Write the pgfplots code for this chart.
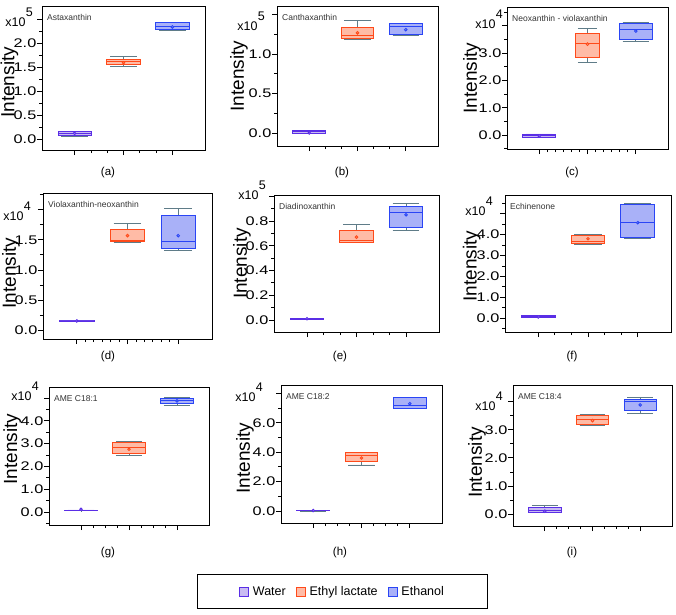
\documentclass[border=0pt]{standalone}
\usepackage{pgfplots}
\pgfplotsset{compat=1.18}
\usepgfplotslibrary{statistics}
\usepackage{graphicx}
\usepackage{fontspec}
\setmainfont{Liberation Sans}

\definecolor{wedge}{HTML}{5A2EE6}
\definecolor{wfill}{HTML}{C9BBF2}
\definecolor{eedge}{HTML}{FF4A1A}
\definecolor{efill}{HTML}{FFBBA6}
\definecolor{nedge}{HTML}{2A45F5}
\definecolor{nfill}{HTML}{A9B1F8}
\definecolor{whisk}{HTML}{5F7C88}
\definecolor{ttl}{HTML}{333333}

\pgfplotsset{
  panel/.style={
    scale only axis, anchor=south west,
    xmin=0.3333, xmax=3.6667, xtick={1,2,3}, xticklabels={}, minor x tick num=2,
    tick align=outside, xtick pos=bottom, ytick pos=left,
    major tick length=5pt, minor tick length=3pt,
    axis line style={line width=0.8pt},
    tick style={black, line width=0.8pt},
    clip=false, scaled y ticks=false,
    yticklabel={\scalebox{1.3}[1]{\pgfmathprintnumber[fixed,fixed zerofill,precision=1,assume math mode=true]{\tick}}},
    yticklabel style={font=\fontsize{12.5}{14}\selectfont, inner xsep=0.5pt},
    ylabel=Intensity,
    ylabel style={font=\fontsize{19}{22}\selectfont, anchor=center},
    boxplot/draw direction=y,
    boxplot/box extend=0.68,
    boxplot/every whisker/.style={draw=whisk, line width=0.9pt},
    boxplot/every average/.style={/tikz/mark=*},
  },
  sW/.style={draw=wedge, fill=wfill, line width=0.9pt, mark size=1.3pt, mark options={solid, draw=wedge, fill=wedge}},
  sE/.style={draw=eedge, fill=efill, line width=0.9pt, mark size=1.3pt, mark options={solid, draw=eedge, fill=eedge}},
  sN/.style={draw=nedge, fill=nfill, line width=0.9pt, mark size=1.3pt, mark options={solid, draw=nedge, fill=nedge}},
}

% position, lower whisker, lower quartile, median, upper quartile, upper whisker, average, style
\newcommand{\bx}[8]{%
  \addplot[#8, forget plot, boxplot prepared={draw direction=y, draw position=#1, lower whisker=#2, lower quartile=#3,
    median=#4, upper quartile=#5, upper whisker=#6, average=#7}] coordinates {};}
\newcommand{\ttl}[1]{\node[anchor=north west, font=\fontsize{8.5}{9}\selectfont, text=ttl, inner sep=1pt]
  at ([xshift=4pt,yshift=-7pt]rel axis cs:0,1) {#1};}
\newcommand{\mult}[3]{\node[anchor=base east, inner sep=0pt, font=\fontsize{12.5}{15}\selectfont]
  at (#1pt,-#2pt) {x10\kern0.3pt\raisebox{9.5pt}{\fontsize{12.5}{15}\selectfont #3}};}

\begin{document}
\begin{tikzpicture}

% (a)
\begin{axis}[panel, at={(42pt,-150pt)}, width=163pt, height=144pt,
  ymin=-0.23, ymax=2.79, ytick={0,0.5,1,1.5,2}, extra y ticks={2.5}, extra y tick labels={},
  minor ytick={0.25,0.75,1.25,1.75,2.25},
  ylabel style={at={(axis description cs:-0.20,0.47)}}]
\bx{1}{0.06}{0.07}{0.11}{0.15}{0.16}{0.12}{sW}
\bx{2}{1.52}{1.57}{1.62}{1.67}{1.73}{1.60}{sE}
\bx{3}{2.27}{2.29}{2.37}{2.44}{2.44}{2.35}{sN}
\ttl{Astaxanthin}
\end{axis}

% (b)
\begin{axis}[panel, at={(277pt,-146pt)}, width=161pt, height=140pt,
  ymin=-0.165, ymax=1.61, ytick={0,0.5,1}, extra y ticks={1.5}, extra y tick labels={},
  minor ytick={0.25,0.75,1.25},
  ylabel style={at={(axis description cs:-0.236,0.5)}}]
\bx{1}{0.0}{0.0}{0.015}{0.03}{0.03}{0.0}{sW}
\bx{2}{1.18}{1.20}{1.24}{1.34}{1.43}{1.27}{sE}
\bx{3}{1.24}{1.25}{1.35}{1.39}{1.39}{1.31}{sN}
\ttl{Canthaxanthin}
\end{axis}

% (c)
\begin{axis}[panel, at={(507pt,-149pt)}, width=161pt, height=142pt,
  ymin=-0.51, ymax=4.69, ytick={0,1,2,3}, extra y ticks={4}, extra y tick labels={},
  minor ytick={-0.5,0.5,1.5,2.5,3.5,4.5}, minor x tick num=5,
  ylabel style={at={(axis description cs:-0.217,0.5)}}]
\bx{1}{-0.08}{-0.07}{-0.02}{0.03}{0.04}{-0.03}{sW}
\bx{2}{2.67}{2.86}{3.37}{3.73}{3.92}{3.33}{sE, boxplot/box extend=0.5}
\bx{3}{3.44}{3.52}{3.85}{4.07}{4.14}{3.81}{sN}
\ttl{Neoxanthin - violaxanthin}
\end{axis}

% (d)
\begin{axis}[panel, at={(43pt,-339pt)}, width=169pt, height=146pt,
  ymin=-0.15, ymax=2.28, ytick={0,0.5,1,1.5}, extra y ticks={2}, extra y tick labels={},
  minor ytick={0.25,0.75,1.25,1.75,2.25}, minor x tick num=5,
  ylabel style={at={(axis description cs:-0.19,0.45)}}]
\bx{1}{0.14}{0.145}{0.15}{0.155}{0.16}{0.15}{sW}
\bx{2}{1.45}{1.47}{1.49}{1.68}{1.77}{1.57}{sE}
\bx{3}{1.32}{1.35}{1.47}{1.90}{2.03}{1.57}{sN}
\ttl{Violaxanthin-neoxanthin}
\end{axis}

% (e)
\begin{axis}[panel, at={(274pt,-332pt)}, width=165pt, height=137pt,
  ymin=-0.097, ymax=1.01, ytick={0,0.2,0.4,0.6,0.8}, extra y ticks={1}, extra y tick labels={},
  minor ytick={0.1,0.3,0.5,0.7,0.9},
  ylabel style={at={(axis description cs:-0.194,0.5)}}]
\bx{1}{0.005}{0.007}{0.01}{0.013}{0.015}{0.01}{sW}
\bx{2}{0.63}{0.63}{0.64}{0.72}{0.77}{0.67}{sE}
\bx{3}{0.72}{0.75}{0.87}{0.92}{0.94}{0.85}{sN}
\ttl{Diadinoxanthin}
\end{axis}

% (f)
\begin{axis}[panel, at={(505pt,-332pt)}, width=166pt, height=137pt,
  ymin=-0.67, ymax=5.9, ytick={0,1,2,3,4}, extra y ticks={5}, extra y tick labels={},
  minor ytick={-0.5,0.5,1.5,2.5,3.5,4.5,5.5},
  ylabel style={at={(axis description cs:-0.20,0.48)}}]
\bx{1}{0.02}{0.03}{0.06}{0.12}{0.13}{0.05}{sW}
\bx{2}{3.52}{3.56}{3.65}{3.94}{4.0}{3.8}{sE}
\bx{3}{3.83}{3.85}{4.6}{5.43}{5.5}{4.57}{sN}
\ttl{Echinenone}
\end{axis}

% (g)
\begin{axis}[panel, at={(49pt,-525pt)}, width=160pt, height=138pt,
  ymin=-0.57, ymax=5.48, ytick={0,1,2,3,4}, extra y ticks={5}, extra y tick labels={},
  minor ytick={-0.5,0.5,1.5,2.5,3.5,4.5}, minor x tick num=3,
  ylabel style={at={(axis description cs:-0.23,0.55)}}]
\bx{1}{0.05}{0.06}{0.07}{0.08}{0.09}{0.12}{sW}
\bx{2}{2.46}{2.58}{2.85}{3.03}{3.08}{2.75}{sE}
\bx{3}{4.65}{4.78}{4.91}{5.0}{5.02}{4.87}{sN}
\ttl{AME C18:1}
\end{axis}

% (h)
\begin{axis}[panel, at={(281pt,-523pt)}, width=161pt, height=138pt,
  ymin=-0.82, ymax=8.57, ytick={0,2,4,6}, extra y ticks={8}, extra y tick labels={},
  minor ytick={1,3,5,7}, minor x tick num=3,
  ylabel style={at={(axis description cs:-0.224,0.47)}},
  legend columns=3,
  legend style={at={(axis description cs:0.382,-0.496)}, anchor=center, draw=black, line width=0.8pt,
    font=\fontsize{12.5}{14}\selectfont, inner xsep=42pt, inner ysep=10pt,
    /tikz/every odd column/.append style={column sep=2pt},
    /tikz/every even column/.append style={column sep=8pt}},
  legend cell align=left]
\bx{1}{0.0}{0.02}{0.03}{0.04}{0.05}{0.03}{sW}
\bx{2}{3.13}{3.35}{3.75}{3.95}{3.95}{3.6}{sE}
\bx{3}{6.95}{7.0}{7.2}{7.7}{7.75}{7.3}{sN}
\ttl{AME C18:2}
\addlegendimage{legend image code/.code={\draw[draw=wedge, fill=wfill, line width=0.8pt] (0pt,-4.5pt) rectangle (9pt,4.5pt);}}
\addlegendentry{Water}
\addlegendimage{legend image code/.code={\draw[draw=eedge, fill=efill, line width=0.8pt] (0pt,-4.5pt) rectangle (9pt,4.5pt);}}
\addlegendentry{Ethyl lactate}
\addlegendimage{legend image code/.code={\draw[draw=nedge, fill=nfill, line width=0.8pt] (0pt,-4.5pt) rectangle (9pt,4.5pt);}}
\addlegendentry{Ethanol}
\end{axis}

% (i)
\begin{axis}[panel, at={(513pt,-526pt)}, width=159pt, height=141pt,
  ymin=-0.43, ymax=4.6, ytick={0,1,2,3}, extra y ticks={4}, extra y tick labels={},
  minor ytick={0.5,1.5,2.5,3.5}, minor x tick num=3,
  ylabel style={at={(axis description cs:-0.226,0.45)}}]
\bx{1}{0.04}{0.04}{0.12}{0.25}{0.29}{0.1}{sW}
\bx{2}{3.14}{3.18}{3.36}{3.5}{3.56}{3.33}{sE}
\bx{3}{3.6}{3.68}{4.0}{4.1}{4.14}{3.89}{sN}
\ttl{AME C18:4}
\end{axis}

% multipliers
\mult{33}{26}{5}
\mult{265}{30}{5}
\mult{503}{28}{4}
\mult{31}{220}{4}
\mult{266}{199}{5}
\mult{493}{215}{4}
\mult{39}{400}{4}
\mult{263}{401}{4}
\mult{503}{410}{4}

% panel labels
\begin{scope}[every node/.style={font=\fontsize{11.5}{13}\selectfont}]
\node at (108pt,-173pt) {(a)};
\node at (342pt,-173pt) {(b)};
\node at (572pt,-173pt) {(c)};
\node at (108pt,-357pt) {(d)};
\node at (340pt,-357pt) {(e)};
\node at (572pt,-357pt) {(f)};
\node at (108pt,-553pt) {(g)};
\node at (340pt,-553pt) {(h)};
\node at (572pt,-553pt) {(i)};
\end{scope}

\pgfresetboundingbox
\path[use as bounding box] (0pt,0pt) rectangle (676pt,-614pt);
\end{tikzpicture}
\end{document}
